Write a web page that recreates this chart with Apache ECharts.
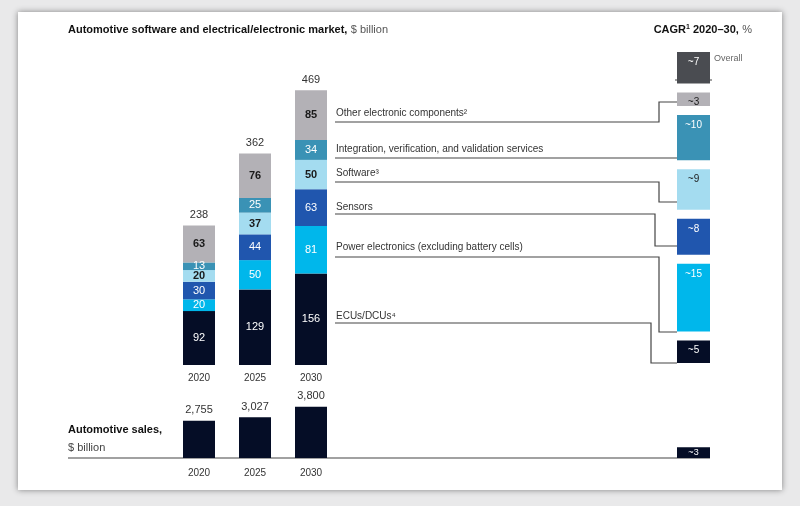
<!DOCTYPE html>
<html><head><meta charset="utf-8">
<script src="https://cdn.jsdelivr.net/npm/echarts@6/dist/echarts.min.js"></script>
<style>
html,body{margin:0;padding:0;background:#e9e9ea;}
#card{position:absolute;left:18px;top:12px;width:764px;height:478px;background:#fff;box-shadow:0 0 6px rgba(0,0,0,.45);}
#chart{position:absolute;left:0;top:0;width:800px;height:506px;}
</style></head>
<body><div id="card"></div><div id="chart"></div>
<script>
var years = ["2020", "2025", "2030"];
var segNames = ["ECUs/DCUs", "Power electronics", "Sensors", "Software", "Integration services", "Other electronic components"];
var ecus = [92, 129, 156];
var power = [20, 50, 81];
var sensors = [30, 44, 63];
var software = [20, 37, 50];
var integration = [13, 25, 34];
var other = [63, 76, 85];
var totals = [238, 362, 469];
var sales = [2755, 3027, 3800];
var cagrNames = ["ECUs/DCUs", "Power", "Sensors", "Software", "Integration", "Other", "Overall"];
var cagr = [5, 15, 8, 9, 10, 3, 7];
var salesCagr = [3];

var segColors = ["#050d26", "#00b7eb", "#2056ae", "#a4dcf0", "#3a92b5", "#b3b1b6", "#4a4c51"];
var segText = ["#fff", "#fff", "#fff", "#1a1a1a", "#fff", "#1a1a1a", "#fff"];
var segData = [ecus, power, sensors, software, integration, other];

var myChart = echarts.init(document.getElementById("chart"));

var series = segData.map(function (d, i) {
  return {
    name: segNames[i], type: "bar", stack: "m", barWidth: 32,
    xAxisIndex: 0, yAxisIndex: 0, data: d,
    itemStyle: { color: segColors[i] },
    label: { show: true, color: segText[i], fontSize: 11, fontWeight: i === 3 || i === 5 ? "bold" : "normal" }
  };
});
series.push({
  type: "bar", stack: "m", barWidth: 32, data: totals.map(function () { return 0; }),
  label: { show: true, position: "top", color: "#333", fontSize: 11,
    formatter: function (p) { return totals[p.dataIndex]; } }
});
series.push({
  type: "bar", xAxisIndex: 1, yAxisIndex: 1, barWidth: 32, data: sales,
  itemStyle: { color: "#050d26" },
  label: { show: true, position: "top", color: "#333", fontSize: 11,
    formatter: function (p) { return p.value.toLocaleString("en-US"); } }
});

// CAGR column: bars stacked bottom-up with a gap between them
var gap = 2;
var cagrItems = [], base = 0;
cagr.forEach(function (v, i) { cagrItems.push([0, base, base + v, i]); base += v + gap; });
function cagrRender(params, api) {
  var i = api.value(3);
  var p0 = api.coord([0, api.value(1)]);
  var p1 = api.coord([0, api.value(2)]);
  var w = 33;
  return {
    type: "rect",
    shape: { x: p0[0] - w / 2, y: p1[1], width: w, height: p0[1] - p1[1] },
    style: { fill: segColors[i] },
    textContent: { style: { text: "~" + cagr[i], fill: segText[i], fontSize: 10 } },
    textConfig: { position: "insideTop", distance: 5 }
  };
}
series.push({
  type: "custom", xAxisIndex: 2, yAxisIndex: 2, data: cagrItems,
  renderItem: cagrRender, encode: { x: 0, y: [1, 2] }
});
series.push({
  type: "bar", xAxisIndex: 3, yAxisIndex: 3, barWidth: 33, data: salesCagr,
  itemStyle: { color: "#050d26" },
  label: { show: true, position: "inside", color: "#fff", fontSize: 9,
    formatter: function (p) { return "~" + p.value; } }
});

function line(pts) {
  return { type: "polyline", shape: { points: pts }, style: { stroke: "#444", lineWidth: 1.2, fill: null } };
}
function txt(x, y, t, opt) {
  return { type: "text", x: x, y: y, style: Object.assign({ text: t, fill: "#333", fontSize: 10, fontFamily: "Arial" }, opt || {}) };
}

myChart.setOption({
  textStyle: { fontFamily: "Arial" },
  animation: false,
  grid: [
    { left: 171, width: 168, top: 72, height: 293 },
    { left: 171, width: 168, top: 404, height: 54 },
    { left: 677, width: 33, top: 52, height: 311 },
    { left: 677, width: 33, top: 404, height: 54 }
  ],
  xAxis: [
    { type: "category", gridIndex: 0, data: years, axisLine: { show: false }, axisTick: { show: false },
      axisLabel: { color: "#333", fontSize: 10, margin: 8 } },
    { type: "category", gridIndex: 1, data: years, axisLine: { show: false }, axisTick: { show: false },
      axisLabel: { color: "#333", fontSize: 10, margin: 10 } },
    { type: "value", gridIndex: 2, min: -1, max: 1, show: false },
    { type: "category", gridIndex: 3, data: [""], show: false }
  ],
  yAxis: [
    { type: "value", gridIndex: 0, min: 0, max: 500, show: false },
    { type: "value", gridIndex: 1, min: 0, max: 4000, show: false },
    { type: "value", gridIndex: 2, min: 0, max: 69, show: false },
    { type: "value", gridIndex: 3, min: 0, max: 15, show: false }
  ],
  series: series,
  graphic: [
    { type: "text", x: 68, y: 24, style: { rich: { b: { fontWeight: "bold", fontSize: 11, fill: "#111" }, n: { fontSize: 11, fill: "#555" } },
      text: "{b|Automotive software and electrical/electronic market,} {n|$ billion}" } },
    { type: "text", x: 752, y: 24, style: { align: "right", rich: { b: { fontWeight: "bold", fontSize: 11, fill: "#111" }, s: { fontWeight: "bold", fontSize: 7, fill: "#111", verticalAlign: "top" }, n: { fontSize: 11, fill: "#555" } },
      text: "{b|CAGR}{s|1}{b| 2020–30,} {n|%}" } },
    txt(714, 54, "Overall", { fill: "#666", fontSize: 9 }),
    txt(68, 424, "Automotive sales,", { fontWeight: "bold", fontSize: 11, fill: "#111" }),
    txt(68, 442, "$ billion", { fontSize: 11, fill: "#444" }),
    txt(336, 108, "Other electronic components²"),
    txt(336, 144, "Integration, verification, and validation services"),
    txt(336, 168, "Software³"),
    txt(336, 202, "Sensors"),
    txt(336, 242, "Power electronics (excluding battery cells)"),
    txt(336, 311, "ECUs/DCUs⁴"),
    line([[335, 122], [659, 122], [659, 102], [677, 102]]),
    line([[335, 158], [710, 158]]),
    line([[335, 182], [659, 182], [659, 202], [677, 202]]),
    line([[335, 214], [655, 214], [655, 246], [677, 246]]),
    line([[335, 257], [659, 257], [659, 332], [677, 332]]),
    line([[335, 323], [651, 323], [651, 363], [677, 363]]),
    line([[675, 80], [712, 80]]),
    line([[68, 458], [710, 458]])
  ]
});
</script></body></html>
